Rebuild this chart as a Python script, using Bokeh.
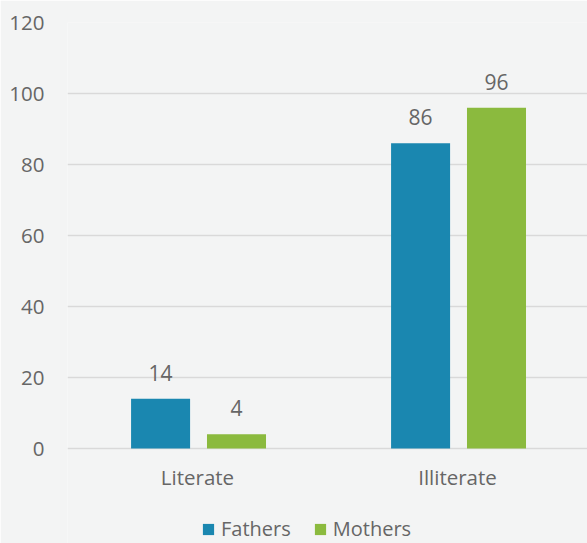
from bokeh.plotting import figure
from bokeh.models import ColumnDataSource, FactorRange, LabelSet, Legend, LegendItem
from bokeh.transform import dodge
from bokeh.core.properties import value
from bokeh.embed import file_html
from bokeh.resources import INLINE

categories = ["Literate", "Illiterate"]
fathers = [14, 86]
mothers = [4, 96]
y_ticks = [0, 20, 40, 60, 80, 100, 120]

FONT = "Open Sans"
TXT = "#666666"
BG = "#f3f4f4"

src = ColumnDataSource(dict(cat=categories, fathers=fathers, mothers=mothers,
                            flab=[str(v) for v in fathers], mlab=[str(v) for v in mothers]))

# frame spans to the bottom of the canvas; the area below 0 holds category labels and legend
p = figure(x_range=FactorRange(*categories), y_range=(-26.76, 120), width=587, height=543,
           output_backend="svg", toolbar_location=None,
           min_border_left=67, min_border_right=0, min_border_top=22, min_border_bottom=0)
p.background_fill_color = BG
p.border_fill_color = BG
p.outline_line_color = None

rf = p.vbar(x=dodge("cat", -0.142, range=p.x_range), top="fathers", width=0.227, source=src,
            fill_color="#1a87b0", line_color=None)
rm = p.vbar(x=dodge("cat", 0.150, range=p.x_range), top="mothers", width=0.227, source=src,
            fill_color="#8bba3e", line_color=None)

for col, lab, dx in (("fathers", "flab", -0.142), ("mothers", "mlab", 0.150)):
    p.add_layout(LabelSet(x=dodge("cat", dx, range=p.x_range), y=col, text=lab, source=src,
                          text_align="center", text_baseline="bottom", y_offset=18,
                          text_font=value(FONT), text_font_size="21px", text_color=TXT))

# category labels under the baseline
p.add_layout(LabelSet(x="cat", y=0, text="cat", source=src,
                      text_align="center", text_baseline="middle", y_offset=-28,
                      text_font=value(FONT), text_font_size="20.5px", text_color=TXT))

p.yaxis.ticker = y_ticks
p.yaxis.axis_line_color = None
p.yaxis.major_tick_line_color = None
p.yaxis.minor_tick_line_color = None
p.yaxis.major_label_standoff = 17
p.yaxis.major_label_text_font = FONT
p.yaxis.major_label_text_font_size = "20.5px"
p.yaxis.major_label_text_color = TXT

p.xaxis.visible = False

p.xgrid.grid_line_color = None
p.ygrid.ticker = y_ticks
p.ygrid.grid_line_color = "#d9d9d9"
p.ygrid.grid_line_width = 1.5

legend = Legend(items=[LegendItem(label="Fathers", renderers=[rf]),
                       LegendItem(label="Mothers", renderers=[rm])],
                orientation="horizontal", location=(134, 1),
                background_fill_alpha=0, border_line_color=None,
                label_text_font=FONT, label_text_font_size="20px", label_text_color=TXT,
                glyph_width=14, glyph_height=14, spacing=22, padding=0, margin=0,
                label_standoff=6)
p.add_layout(legend, "center")

open("out.html", "w").write(file_html(p, INLINE))
